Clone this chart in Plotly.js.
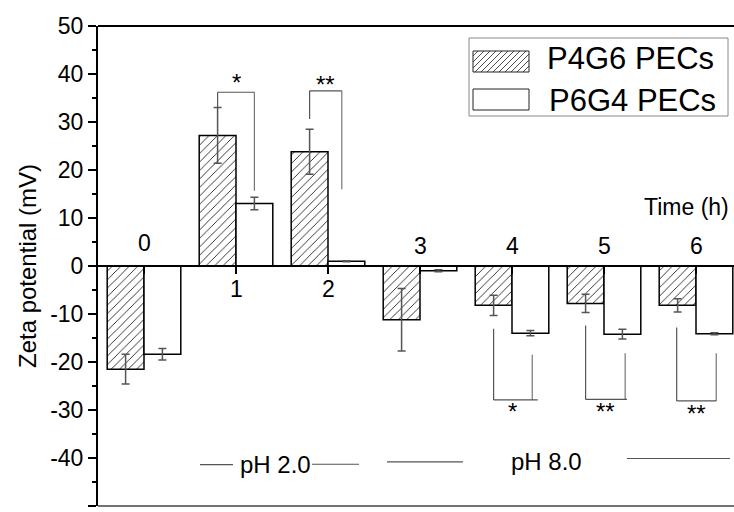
<!DOCTYPE html>
<html>
<head>
<meta charset="utf-8">
<script src="https://cdn.plot.ly/plotly-3.0.1.min.js"></script>
<style>html,body{margin:0;padding:0;background:#fff;}#chart{width:734px;height:512px;}</style>
</head>
<body>
<div id="chart"></div>
<script>
// ---- data ----
const times = ['0', '1', '2', '3', '4', '5', '6'];
const p4g6 = [-21.5, 27.2, 23.8, -11.2, -8.2, -7.8, -8.2];
const p4g6Err = [3.1, 5.8, 4.7, 6.5, 2.1, 1.9, 1.4];
const p6g4 = [-18.4, 13.0, 1.0, -1.0, -14.0, -14.2, -14.1];
const p6g4Err = [1.2, 1.3, 0.1, 0.2, 0.55, 1.0, 0.2];
const seriesNames = ['P4G6 PECs', 'P6G4 PECs'];
const sigGroups = [1, 2, 4, 5, 6];
const sigLabels = ['*', '**', '*', '**', '**'];
const phLabels = ['pH 2.0', 'pH 8.0'];
const yTicks = [-50, -40, -30, -20, -10, 0, 10, 20, 30, 40, 50];

// ---- geometry ----
const W = 734, H = 512, ML = 98, MR = 0, MT = 26, MB = 6;
const PW = W - ML - MR, PH = H - MT - MB;
const px2x = p => (p - ML) / PW;
const py2y = p => (H - MB - p) / PH;
const FONT = 'Liberation Sans, Arial, sans-serif';

const traces = [
  {
    type: 'bar', x: times.map((_, i) => i), y: p4g6, name: seriesNames[0],
    marker: {color: '#fff', line: {color: '#000', width: 1.5},
             pattern: {shape: '/', fgcolor: '#222', bgcolor: '#fff', size: 6, solidity: 0.15}},
    error_y: {type: 'data', array: p4g6Err, visible: true, color: '#555', thickness: 1.5, width: 4},
    showlegend: false
  },
  {
    type: 'bar', x: times.map((_, i) => i), y: p6g4, name: seriesNames[1],
    marker: {color: '#fff', line: {color: '#000', width: 1.5}},
    error_y: {type: 'data', array: p6g4Err, visible: true, color: '#555', thickness: 1.5, width: 4},
    showlegend: false
  }
];

const shapes = [];
const annotations = [];

// frame lines (top / bottom)
shapes.push({type: 'line', xref: 'paper', yref: 'paper', x0: 0, x1: 1, y0: 1, y1: 1, line: {color: '#000', width: 2}});
shapes.push({type: 'line', xref: 'paper', yref: 'paper', x0: 0, x1: 1, y0: 0, y1: 0, line: {color: '#444', width: 1.5}});

// category labels: above the zero line for negative groups, below for positive
times.forEach((t, i) => {
  const pos = p4g6[i] > 0;
  annotations.push({x: i, y: 0, xref: 'x', yref: 'y', text: t, showarrow: false,
    yanchor: pos ? 'top' : 'bottom', yshift: pos ? -8 : (i === 0 ? 8 : 5),
    font: {family: FONT, size: 23, color: '#000'}});
});
annotations.push({x: 1, xref: 'paper', y: 12.3, yref: 'y', text: 'Time (h)', showarrow: false,
  xanchor: 'right', xshift: -3, font: {family: FONT, size: 23, color: '#000'}});

// significance brackets
const brackets = [
  {top: 36.2, l0: 33.0, r0: 15.7, dl: -0.2, dr: 0.2, hr: 0.2, ly: 38.2},
  {top: 36.5, l0: 30.6, r0: 16.0, dl: -0.2, dr: 0.15, hr: 0.15, ly: 37.8},
  {top: -27.9, l0: -13.05, r0: -18.5, dl: -0.2, dr: 0.22, hr: 0.28, ly: -30.4},
  {top: -27.8, l0: -12.4, r0: -18.2, dl: -0.2, dr: 0.23, hr: 0.25, ly: -30.4},
  {top: -28.1, l0: -12.8, r0: -18.2, dl: -0.21, dr: 0.22, hr: 0.22, ly: -30.8}
];
sigGroups.forEach((g, k) => {
  const b = brackets[k];
  const ln = {color: '#555', width: 1.2};
  shapes.push({type: 'line', xref: 'x', yref: 'y', x0: g + b.dl, x1: g + b.dl, y0: b.l0, y1: b.top, line: ln});
  shapes.push({type: 'line', xref: 'x', yref: 'y', x0: g + b.dr, x1: g + b.dr, y0: b.r0, y1: b.top, line: {color: '#777', width: 1.2}});
  shapes.push({type: 'line', xref: 'x', yref: 'y', x0: g + b.dl, x1: g + b.hr, y0: b.top, y1: b.top, line: ln});
  annotations.push({x: g + (b.dl + b.dr) / 2, y: b.ly, xref: 'x', yref: 'y', text: sigLabels[k], showarrow: false,
    font: {family: FONT, size: 24, color: '#000'}});
});

// pH labels and lines
const phText = [{x: 1.424, y: -41.3}, {x: 4.37, y: -40.8}];
phLabels.forEach((t, i) => annotations.push({x: phText[i].x, y: phText[i].y, xref: 'x', yref: 'y', text: t,
  showarrow: false, font: {family: FONT, size: 24, color: '#000'}}));
[[0.609, 0.967, -41.4], [1.826, 2.337, -41.3], [2.641, 3.467, -40.8], [5.25, 6.37, -40.1]].forEach(s =>
  shapes.push({type: 'line', xref: 'x', yref: 'y', x0: s[0], x1: s[1], y0: s[2], y1: s[2],
    line: {color: '#555', width: 1.2}}));

// custom legend
const lg = {x0: 469, x1: 728, y0: 38, y1: 116};
shapes.push({type: 'rect', xref: 'paper', yref: 'paper', x0: px2x(lg.x0), x1: px2x(lg.x1), y0: py2y(lg.y1), y1: py2y(lg.y0),
  line: {color: '#888', width: 1}, fillcolor: '#fff'});
const sw = [{x0: 473, x1: 529, y0: 51, y1: 72}, {x0: 473, x1: 529, y0: 89, y1: 110}];
sw.forEach(r => shapes.push({type: 'rect', xref: 'paper', yref: 'paper', x0: px2x(r.x0), x1: px2x(r.x1),
  y0: py2y(r.y1), y1: py2y(r.y0), line: {color: '#222', width: 1}, fillcolor: '#fff'}));
// hatch in first swatch
(function () {
  const r = sw[0];
  let d = '';
  for (let c = r.x0 + r.y0 + 5; c < r.x1 + r.y1; c += 6) {
    const xa = Math.max(r.x0, c - r.y1), xb = Math.min(r.x1, c - r.y0);
    if (xb <= xa) continue;
    d += 'M' + px2x(xa) + ',' + py2y(c - xa) + 'L' + px2x(xb) + ',' + py2y(c - xb);
  }
  shapes.push({type: 'path', xref: 'paper', yref: 'paper', path: d, line: {color: '#222', width: 0.8}});
})();
const lt = [{x: 545, y: 59}, {x: 547, y: 100}];
seriesNames.forEach((n, i) => annotations.push({xref: 'paper', yref: 'paper', x: px2x(lt[i].x), y: py2y(lt[i].y),
  xanchor: 'left', yanchor: 'middle', text: n, showarrow: false, font: {family: FONT, size: 31, color: '#000'}}));

const layout = {
  width: W, height: H,
  margin: {l: ML, r: MR, t: MT, b: MB, pad: 0},
  paper_bgcolor: '#fff', plot_bgcolor: '#fff',
  barmode: 'group', bargap: 0.2, bargroupgap: 0,
  showlegend: false,
  font: {family: FONT, color: '#000'},
  xaxis: {
    range: [-0.5, -0.5 + PW / 92], tickmode: 'array', tickvals: times.map((_, i) => i),
    showticklabels: false, showgrid: false, zeroline: false,
    anchor: 'free', position: 0.5, showline: true, linecolor: '#000', linewidth: 2,
    ticks: 'outside', ticklen: 7, tickwidth: 2, tickcolor: '#000', layer: 'above traces'
  },
  yaxis: {
    range: [-50, 50], tickmode: 'array', tickvals: yTicks, ticktext: yTicks.map(String),
    showgrid: false, zeroline: false, showline: true, linecolor: '#000', linewidth: 2,
    ticks: 'outside', ticklen: 8, tickwidth: 2, tickcolor: '#000',
    tickfont: {family: FONT, size: 23, color: '#000'},
    minor: {dtick: 5, ticks: 'outside', ticklen: 4, tickwidth: 1.5, tickcolor: '#000'},
    title: {text: 'Zeta potential (mV)', font: {family: FONT, size: 24, color: '#000'}, standoff: 7},
    automargin: false
  },
  shapes: shapes,
  annotations: annotations
};

Plotly.newPlot('chart', traces, layout, {staticPlot: true, displayModeBar: false});
</script>
</body>
</html>
